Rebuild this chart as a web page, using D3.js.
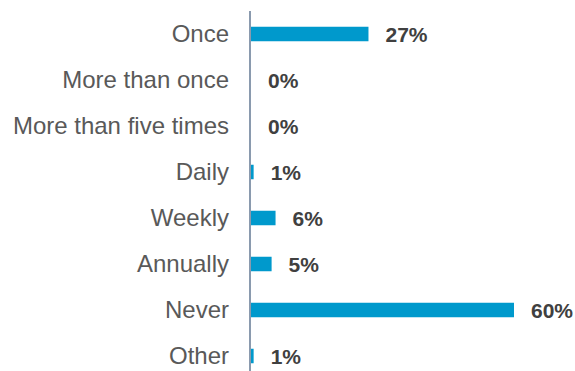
<!DOCTYPE html>
<html>
<head>
<meta charset="utf-8">
<script src="https://cdn.jsdelivr.net/npm/d3@7"></script>
<style>
html,body{margin:0;padding:0;background:#fff;}
svg{display:block;}
</style>
</head>
<body>
<svg id="chart" width="575" height="371"></svg>
<script>
const categories = ["Once","More than once","More than five times","Daily","Weekly","Annually","Never","Other"];
const values = [26.8, 0, 0, 0.6, 5.6, 4.7, 60, 0.6];

const svg = d3.select("#chart");
const x = d3.scaleLinear().domain([0, 60]).range([251, 514]);
const y = d3.scalePoint().domain(categories).range([34, 356]);
const barH = 14.5;
const fmt = v => d3.format(".0f")(v) + "%";

// bars
svg.selectAll("rect.bar").data(categories).join("rect")
  .attr("class","bar")
  .attr("x", x(0))
  .attr("y", d => y(d) - barH/2)
  .attr("width", (d,i) => x(values[i]) - x(0))
  .attr("height", barH)
  .attr("fill", "#0099cc");

// axis line
svg.append("line")
  .attr("x1", 250).attr("x2", 250)
  .attr("y1", 11).attr("y2", 371)
  .attr("stroke", "#8a9aae").attr("stroke-width", 2);

// category labels
svg.selectAll("text.cat").data(categories).join("text")
  .attr("class","cat")
  .attr("x", 229)
  .attr("y", d => y(d))
  .attr("dy", "0.35em")
  .attr("text-anchor","end")
  .attr("font-family","'Liberation Sans', Arial, sans-serif")
  .attr("font-size", 24)
  .attr("fill", "#595959")
  .text(d => d);

// value labels
svg.selectAll("text.val").data(categories).join("text")
  .attr("class","val")
  .attr("x", (d,i) => x(values[i]) + 17)
  .attr("y", d => y(d))
  .attr("dy", "0.36em")
  .attr("font-family","'Liberation Sans', Arial, sans-serif")
  .attr("font-weight","bold")
  .attr("font-size", 21)
  .attr("fill", "#404040")
  .text((d,i) => fmt(values[i]));
</script>
</body>
</html>
